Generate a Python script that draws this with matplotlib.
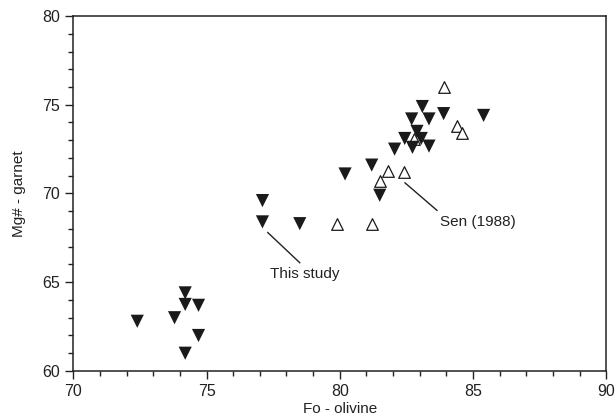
import matplotlib
matplotlib.use("Agg")
import matplotlib.pyplot as plt
from matplotlib.ticker import MultipleLocator

plt.rcParams['font.family'] = ['Liberation Sans', 'DejaVu Sans']

# This study (filled down-triangles)
this_fo = [72.4, 73.8, 74.2, 74.2, 74.7, 74.7, 74.2,
           77.1, 77.1, 78.5, 80.2, 81.5, 81.2, 82.06, 82.44,
           82.73, 83.35, 82.9, 83.06, 82.7, 83.35, 83.1, 83.9, 85.4]
this_mg = [62.8, 63.0, 64.4, 63.75, 63.7, 62.0, 61.0,
           69.6, 68.4, 68.3, 71.1, 69.9, 71.6, 72.5, 73.1,
           72.6, 72.67, 73.5, 73.1, 74.2, 74.2, 74.9, 74.5, 74.4]

# Sen (1988) (open up-triangles)
sen_fo = [79.9, 81.2, 81.5, 81.8, 82.4, 82.8, 83.9, 84.4, 84.6]
sen_mg = [68.3, 68.3, 70.7, 71.25, 71.2, 73.05, 76.0, 73.8, 73.4]

fig = plt.figure(figsize=(6.16, 4.19), dpi=100)
ax = fig.add_axes([0.119, 0.1146, 0.865, 0.8472])

ax.scatter(sen_fo, sen_mg, marker='^', s=70, facecolors='white',
           edgecolors='#1a1a1a', linewidths=0.9, zorder=3)
ax.scatter(this_fo, this_mg, marker='v', s=90, color='#1a1a1a',
           edgecolors='none', zorder=4)

ax.set_xlim(70, 90)
ax.set_ylim(60, 80)
ax.xaxis.set_major_locator(MultipleLocator(5))
ax.xaxis.set_minor_locator(MultipleLocator(1))
ax.yaxis.set_major_locator(MultipleLocator(5))
ax.yaxis.set_minor_locator(MultipleLocator(1))
ax.tick_params(which='major', direction='out', length=6, width=1.0,
               labelsize=11.5, colors='#222222')
ax.tick_params(which='minor', direction='out', length=3.5, width=1.0,
               colors='#222222')
ax.tick_params(top=False, right=False, which='both')
for sp in ax.spines.values():
    sp.set_linewidth(1.1)
    sp.set_color('#222222')

ax.set_xlabel('Fo - olivine', fontsize=11, color='#222222', labelpad=2)
ax.set_ylabel('Mg# - garnet', fontsize=11, color='#222222', labelpad=12)

# annotations
ax.plot([77.3, 78.5], [67.8, 66.1], color='#222222', lw=1.0)
ax.text(77.4, 65.45, 'This study', fontsize=11, color='#222222',
        ha='left', va='center')
ax.plot([82.45, 83.65], [70.6, 69.05], color='#222222', lw=1.0)
ax.text(83.75, 68.4, 'Sen (1988)', fontsize=11, color='#222222',
        ha='left', va='center')

fig.savefig('out.png', dpi=100)
